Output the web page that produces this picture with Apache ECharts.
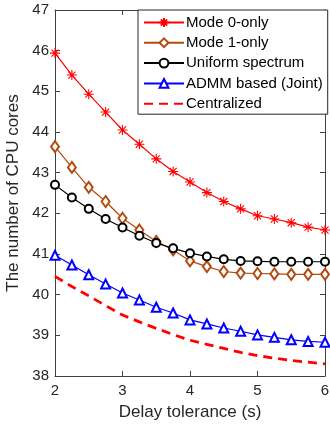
<!DOCTYPE html>
<html>
<head>
<meta charset="utf-8">
<script src="https://cdn.jsdelivr.net/npm/echarts@6/dist/echarts.min.js"></script>
<style>
  html, body { margin: 0; padding: 0; background: #fff; }
  #chart { width: 330px; height: 427px; }
</style>
</head>
<body>
<div id="chart"></div>
<script>
// delay tolerance (s)
var delays = [2, 2.25, 2.5, 2.75, 3, 3.25, 3.5, 3.75, 4, 4.25, 4.5, 4.75, 5, 5.25, 5.5, 5.75, 6]
var mode0 = [45.94, 45.40, 44.93, 44.49, 44.05, 43.70, 43.34, 43.03, 42.77, 42.51, 42.29, 42.11, 41.94, 41.86, 41.77, 41.66, 41.59]
var mode1 = [43.64, 43.13, 42.64, 42.29, 41.88, 41.59, 41.31, 41.10, 40.83, 40.69, 40.57, 40.53, 40.52, 40.51, 40.50, 40.50, 40.50]
var uniform = [42.70, 42.39, 42.11, 41.86, 41.65, 41.45, 41.27, 41.14, 41.02, 40.94, 40.87, 40.83, 40.82, 40.81, 40.81, 40.81, 40.81]
var admm = [40.97, 40.73, 40.49, 40.26, 40.04, 39.87, 39.69, 39.55, 39.38, 39.28, 39.18, 39.10, 39.01, 38.95, 38.89, 38.85, 38.83]
var central = [40.45, 40.20, 39.97, 39.73, 39.50, 39.33, 39.17, 39.02, 38.88, 38.78, 38.68, 38.58, 38.50, 38.44, 38.38, 38.34, 38.30]

var FONT = 'Liberation Sans, Arial, sans-serif'
var STAR = 'path://M0 -10 L0 10 M-10 0 L10 0 M-7.1 -7.1 L7.1 7.1 M-7.1 7.1 L7.1 -7.1'

function pairs (ys) {
  var out = []
  for (var i = 0; i < delays.length; i++) {
    out.push([delays[i], ys[i]])
  }
  return out
}

function markerSeries (name, ys, color, symbol, size) {
  return {
    name: name,
    type: 'line',
    data: pairs(ys),
    symbol: symbol,
    symbolSize: size,
    showSymbol: true,
    lineStyle: { color: color, width: 1.2 },
    itemStyle: { color: color, borderColor: color, borderWidth: 1.1 }
  }
}

var axisCol = '#404040'

var myCharts = echarts.init(document.getElementById('chart'))
myCharts.setOption({
  animation: false,
  textStyle: { fontFamily: FONT },
  grid: { left: 55, right: 5, top: 10, bottom: 51, outerBoundsMode: 'none' },
  legend: {
    orient: 'vertical',
    left: 138,
    top: 10,
    itemWidth: 40,
    itemHeight: 11,
    itemGap: 5.3,
    padding: [5, 5, 3, 5],
    backgroundColor: '#fff',
    borderColor: '#262626',
    borderWidth: 1,
    textStyle: { fontFamily: FONT, fontSize: 15, lineHeight: 15, color: '#000', padding: [0, 0, 0, -3] },
    data: [
      'Mode 0-only', 'Mode 1-only', 'Uniform spectrum', 'ADMM based (Joint)',
      { name: 'Centralized', itemStyle: { opacity: 0 } }
    ]
  },
  xAxis: [{
    type: 'value',
    min: 2, max: 6, interval: 1,
    name: 'Delay tolerance (s)',
    nameLocation: 'middle',
    nameGap: 28,
    nameTextStyle: { fontFamily: FONT, fontSize: 17, color: '#262626' },
    axisLine: { show: true, lineStyle: { color: axisCol } },
    axisTick: { inside: true, length: 5, lineStyle: { color: axisCol } },
    axisLabel: { margin: 7, fontFamily: FONT, fontSize: 15, color: '#262626' },
    splitLine: { show: false }
  }, {
    type: 'value',
    position: 'top',
    min: 2, max: 6, interval: 1,
    axisLine: { show: true, onZero: false, lineStyle: { color: axisCol } },
    axisTick: { inside: true, length: 5, lineStyle: { color: axisCol } },
    axisLabel: { show: false },
    splitLine: { show: false }
  }],
  yAxis: [{
    type: 'value',
    min: 38, max: 47, interval: 1,
    name: 'The number of CPU cores',
    nameLocation: 'middle',
    nameGap: 26,
    nameTextStyle: { fontFamily: FONT, fontSize: 17, color: '#262626' },
    axisLine: { show: true, lineStyle: { color: axisCol } },
    axisTick: { show: true, inside: true, length: 5, lineStyle: { color: axisCol } },
    axisLabel: { margin: 6, fontFamily: FONT, fontSize: 15, color: '#262626' },
    splitLine: { show: false }
  }, {
    type: 'value',
    position: 'right',
    min: 38, max: 47, interval: 1,
    axisLine: { show: true, onZero: false, lineStyle: { color: axisCol } },
    axisTick: { show: true, inside: true, length: 5, lineStyle: { color: axisCol } },
    axisLabel: { show: false },
    splitLine: { show: false }
  }],
  series: [
    markerSeries('Mode 0-only', mode0, '#ff0000', STAR, 10),
    markerSeries('Mode 1-only', mode1, '#b44a10', 'emptyDiamond', [8, 11]),
    markerSeries('Uniform spectrum', uniform, '#000000', 'emptyCircle', 8),
    markerSeries('ADMM based (Joint)', admm, '#0000ff', 'emptyTriangle', 9),
    {
      name: 'Centralized',
      type: 'line',
      data: pairs(central),
      symbol: 'none',
      lineStyle: { color: '#ff0000', width: 2.8, type: [9, 6] },
      itemStyle: { color: '#ff0000' }
    }
  ]
})
</script>
</body>
</html>
